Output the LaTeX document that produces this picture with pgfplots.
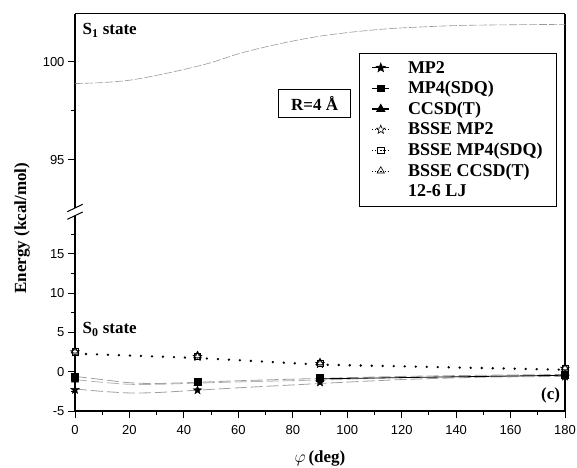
\documentclass[border=0pt]{standalone}
\usepackage{fontspec}
\setmainfont{Liberation Serif}
\newfontfamily\arial{Liberation Sans}
\usepackage{pgfplots}
\pgfplotsset{compat=1.18}

\pgfdeclareplotmark{pstar}{%
 \pgfpathmoveto{\pgfpointpolar{90}{\pgfplotmarksize}}%
 \pgfpathlineto{\pgfpointpolar{126}{0.42\pgfplotmarksize}}%
 \pgfpathlineto{\pgfpointpolar{162}{\pgfplotmarksize}}%
 \pgfpathlineto{\pgfpointpolar{198}{0.42\pgfplotmarksize}}%
 \pgfpathlineto{\pgfpointpolar{234}{\pgfplotmarksize}}%
 \pgfpathlineto{\pgfpointpolar{270}{0.42\pgfplotmarksize}}%
 \pgfpathlineto{\pgfpointpolar{306}{\pgfplotmarksize}}%
 \pgfpathlineto{\pgfpointpolar{342}{0.42\pgfplotmarksize}}%
 \pgfpathlineto{\pgfpointpolar{18}{\pgfplotmarksize}}%
 \pgfpathlineto{\pgfpointpolar{54}{0.42\pgfplotmarksize}}%
 \pgfpathclose
 \pgfusepathqfillstroke
}

\newcommand{\bigbf}{\bfseries\fontsize{17}{20}\selectfont}

\pgfplotsset{
  myaxis/.style={
    scale only axis, width=490pt, xmin=0, xmax=180,
    tick align=outside, major tick length=7pt, minor tick length=4pt,
    axis line style={line width=1.2pt},
    every tick/.style={line width=1pt, black},
    ticklabel style={font=\arial\fontsize{13}{15}\selectfont},
    /pgf/number format/assume math mode=true,
  },
  fit/.style={gray!75, line width=0.8pt, dash pattern=on 12pt off 4pt, smooth, no marks},
  bsse/.style={black, line width=2.6pt, line cap=round, dash pattern=on 0pt off 11pt, no marks},
}

\begin{document}
\begin{tikzpicture}
\useasboundingbox (-75pt,-56pt) rectangle (502pt,411pt);

% lower axis
\begin{axis}[myaxis,
  at={(0pt,0pt)}, anchor=south west, height=200.4pt,
  ymin=-5, ymax=20.5,
  axis x line*=bottom, axis y line*=box, ytick pos=left,
  xtick={0,20,...,180}, minor xtick={10,30,...,170},
  ytick={-5,0,5,10,15}, minor ytick={-2.5,2.5,7.5,12.5,17.5},
  xticklabel style={yshift=-4pt},
  clip=false,
  xlabel={$\varphi$\,(deg)}, xlabel style={font=\bigbf, yshift=-9pt},
]
\addplot[fit] coordinates {(0,-0.6) (10,-1.0) (20,-1.4) (30,-1.5) (45,-1.35) (60,-1.15) (90,-0.85) (120,-0.6) (150,-0.45) (180,-0.35)};
\addplot[fit, gray!60] coordinates {(0,-1.0) (10,-1.35) (20,-1.6) (30,-1.6) (45,-1.45) (60,-1.3) (90,-1.05) (120,-0.75) (150,-0.55) (180,-0.45)};
\addplot[fit] coordinates {(0,-2.2) (10,-2.5) (20,-2.7) (30,-2.65) (45,-2.35) (60,-2.05) (90,-1.5) (120,-1.0) (150,-0.7) (180,-0.6)};
\addplot[black, line width=0.8pt, no marks] coordinates {(90,-0.9) (180,-0.45)};
\addplot[bsse] coordinates {(0,2.3) (45,1.75) (90,0.9) (180,0.25)};
% BSSE markers
\addplot[only marks, mark=pstar, mark size=4.5pt, mark options={fill=white, line width=0.6pt}] coordinates {(0,2.5) (45,1.9) (90,1.0) (180,0.4)};
\addplot[only marks, mark=square, mark size=3.2pt, mark options={line width=0.6pt}] coordinates {(0,2.55) (45,1.95) (90,1.1) (180,0.45)};
\addplot[only marks, mark=triangle, mark size=4.2pt, mark options={fill=white, line width=0.8pt}] coordinates {(0,2.65) (45,2.05) (90,1.15) (180,0.5)};
% filled markers
\addplot[only marks, mark=pstar, mark size=4.5pt, mark options={fill=black}] coordinates {(0,-2.3) (45,-2.35) (90,-1.35) (180,-0.6)};
\addplot[only marks, mark=triangle*, mark size=4.2pt, mark options={fill=black}] coordinates {(0,-1.05) (45,-1.5) (90,-1.0) (180,-0.45)};
\addplot[only marks, mark=square*, mark size=3.5pt, mark options={fill=black}] coordinates {(0,-0.6) (45,-1.25) (90,-0.8) (180,-0.35)};
\node[anchor=west, font=\bigbf] at (axis cs:1.5,5.4) {S\textsubscript{0} state};
\node[anchor=east, font=\bigbf] at (axis cs:179.5,-3.0) {(c)};
\end{axis}

% upper axis
\begin{axis}[myaxis,
  at={(0pt,200.4pt)}, anchor=south west, height=197pt,
  ymin=92.4, ymax=102.45,
  axis x line*=top, xtick=\empty, axis y line*=box, ytick pos=left,
  ytick={95,100}, minor ytick={97.5},
  legend style={at={(0.9837,0.802)}, anchor=north east, draw=black, line width=1pt,
    font=\bfseries\fontsize{18}{21}\selectfont, row sep=2.8pt, column sep=16pt,
    inner xsep=12pt, inner ysep=6pt},
  legend cell align=left,
]
\addlegendimage{black, line width=0.8pt, mark=pstar, mark size=4.5pt, mark options={fill=black}}
\addlegendentry{MP2}
\addlegendimage{black, line width=0.8pt, mark=square*, mark size=3.2pt}
\addlegendentry{MP4(SDQ)}
\addlegendimage{black, line width=1.4pt, mark=triangle*, mark size=4.2pt}
\addlegendentry{CCSD(T)}
\addlegendimage{black, line width=0.6pt, dash pattern=on 0.8pt off 1.8pt, mark=pstar, mark size=4.5pt, mark options={fill=white, solid}}
\addlegendentry{BSSE MP2}
\addlegendimage{black, line width=0.6pt, dash pattern=on 0.8pt off 1.8pt, mark=square, mark size=3.2pt, mark options={solid}}
\addlegendentry{BSSE MP4(SDQ)}
\addlegendimage{black, line width=0.6pt, dash pattern=on 0.8pt off 1.8pt, mark=triangle, mark size=4.2pt, mark options={solid}}
\addlegendentry{BSSE CCSD(T)}
\addlegendimage{empty legend}
\addlegendentry{12-6 LJ}
\addplot[gray!80, line width=0.6pt, dash pattern=on 8pt off 2pt, smooth, no marks, forget plot] coordinates {
(0,98.88) (10,98.93) (20,99.05) (30,99.3) (40,99.6) (50,99.95) (60,100.4) (70,100.75) (80,101.05) (90,101.3) (100,101.48) (110,101.62) (120,101.72) (140,101.84) (160,101.88) (180,101.9)};
\node[anchor=west, font=\bigbf] at (axis cs:1.5,101.6) {S\textsubscript{1} state};
\node[draw, line width=1pt, font=\bigbf, minimum width=72pt, minimum height=28pt, inner sep=3pt] at (axis cs:88,97.85) {R=4 Å};
\end{axis}

% axis break marks
\fill[white] (-2.5pt,195.5pt) rectangle (2.5pt,203pt);
\draw[line width=1pt] (-7.7pt,199.3pt) -- (7.7pt,206.7pt);
\draw[line width=1pt] (-7.7pt,191.7pt) -- (7.7pt,199pt);

\node[rotate=90, font=\bigbf] at (-53pt,183pt) {Energy (kcal/mol)};
\end{tikzpicture}
\end{document}
